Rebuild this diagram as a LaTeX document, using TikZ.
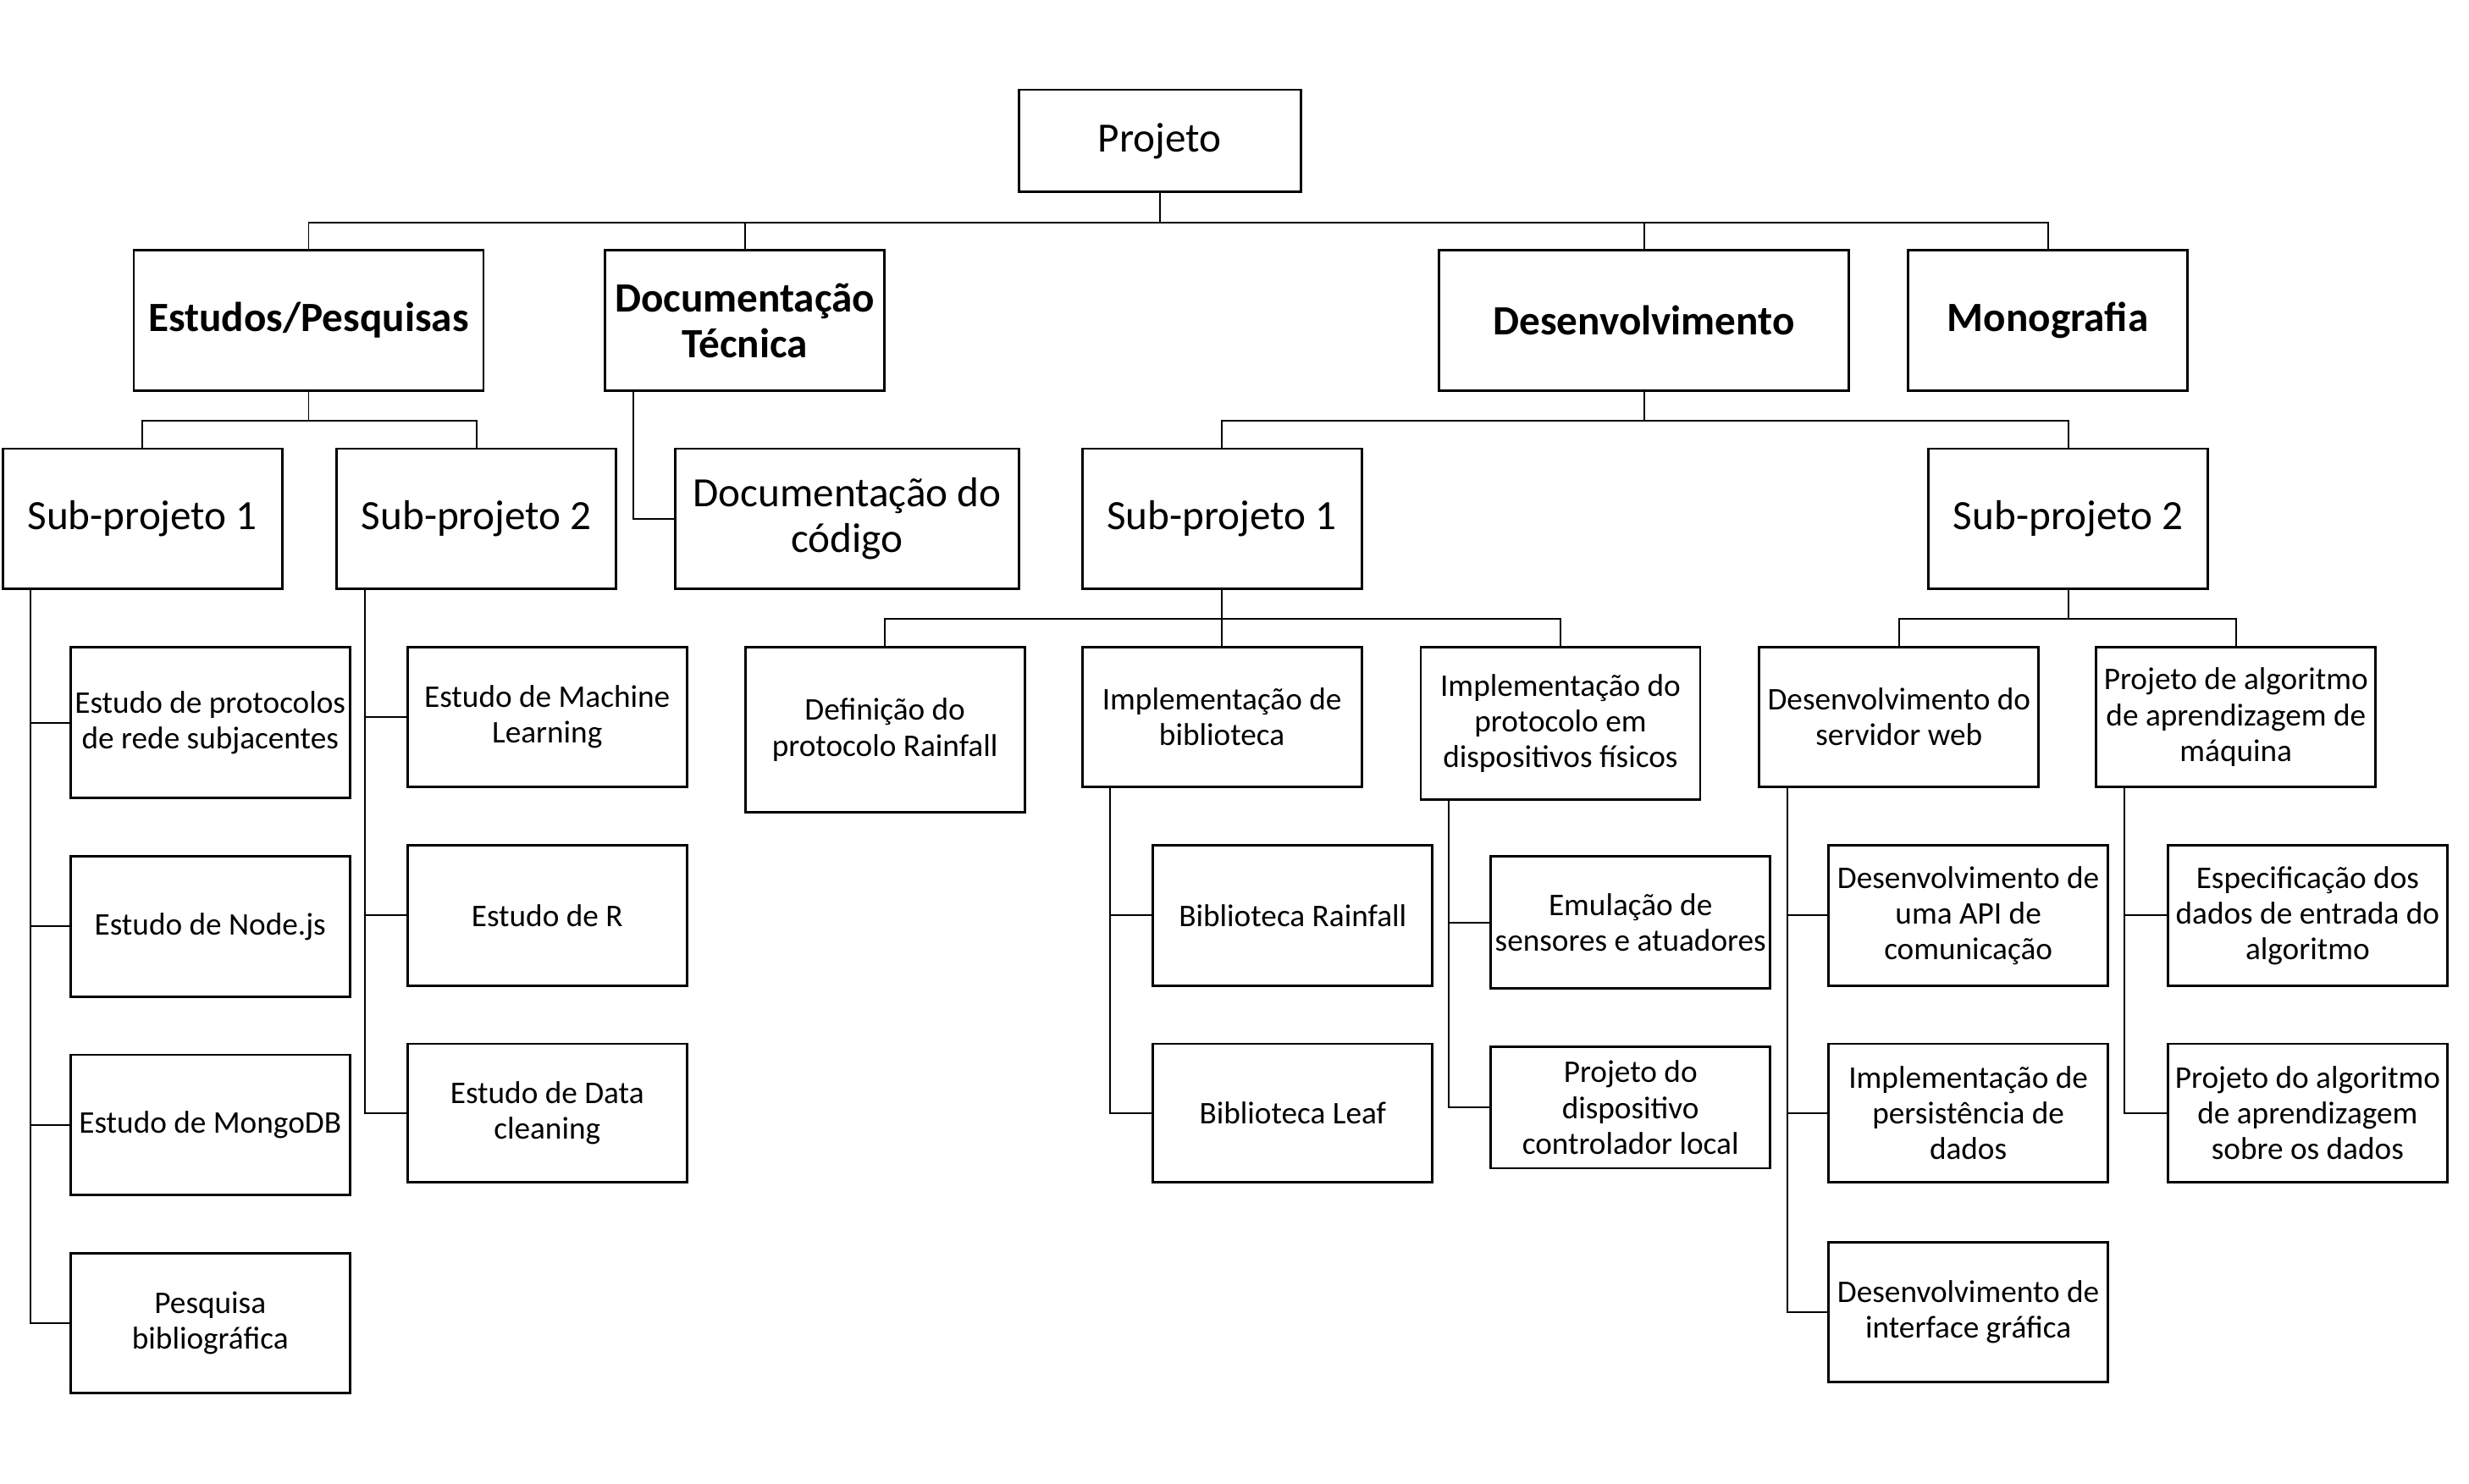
\documentclass[tikz,border=0pt]{standalone}
\usepackage{fontspec}
\setmainfont{Carlito}
\usetikzlibrary{positioning,calc}

\tikzset{
  wbsbox/.style={draw, line width=0.8pt, inner sep=1pt, align=center, minimum width=3.3cm, minimum height=1.655cm},
  bigtext/.style={font=\fontsize{14}{15.4}\selectfont},
  boldtext/.style={font=\fontsize{14}{15.4}\selectfont\bfseries},
  smalltext/.style={font=\fontsize{10.6}{12}\selectfont},
  wbsline/.style={line width=0.55pt},
}

\begin{document}
\begin{tikzpicture}[x=0.018597cm, y=-0.018597cm]
                    \useasboundingbox (0,0) rectangle (1568,942.1);

                    % Drawing box Projeto
                    \node[wbsbox, bigtext, minimum width=3.329cm, minimum height=1.209cm] (proj) at (736.5,89.5) {Projeto};

                    % Drawing boxes of level 1
                    \node[wbsbox, boldtext, minimum width=4.129cm] (est) at (196,203.5) {Estudos/Pesquisas};
                    \node[wbsbox, boldtext] (doct) at (473,203.5) {Documentação\\Técnica};
                    \node[wbsbox, boldtext, minimum width=4.835cm] (dev) at (1044,203.5) {Desenvolvimento};
                    \node[wbsbox, boldtext] (mono) at (1300.5,203.5) {Monografia};

                    % Drawing boxes of level 2
                    \node[wbsbox, bigtext] (esp1) at (90.5,329.5) {Sub-projeto 1};
                    \node[wbsbox, bigtext] (esp2) at (302.5,329.5) {Sub-projeto 2};
                    \node[wbsbox, bigtext, minimum width=4.054cm] (doccod) at (538,329.5) {Documentação do\\código};
                    \node[wbsbox, bigtext] (dsp1) at (776,329.5) {Sub-projeto 1};
                    \node[wbsbox, bigtext] (dsp2) at (1313.5,329.5) {Sub-projeto 2};

                    % Drawing boxes of Sub-projeto 1 (Estudos)
                    \node[wbsbox, smalltext, minimum height=1.785cm] (e1) at (133.5,459) {Estudo de protocolos\\de rede subjacentes};
                    \node[wbsbox, smalltext] (e2) at (133.5,588.5) {Estudo de Node.js};
                    \node[wbsbox, smalltext] (e3) at (133.5,714.5) {Estudo de MongoDB};
                    \node[wbsbox, smalltext] (e4) at (133.5,840.5) {Pesquisa\\bibliográfica};

                    % Drawing boxes of Sub-projeto 2 (Estudos)
                    \node[wbsbox, smalltext] (m1) at (347.5,455.5) {Estudo de Machine\\Learning};
                    \node[wbsbox, smalltext] (m2) at (347.5,581.5) {Estudo de R};
                    \node[wbsbox, smalltext, minimum height=1.637cm] (m3) at (347.5,707) {Estudo de Data\\cleaning};

                    % Drawing boxes of Sub-projeto 1 (Desenvolvimento)
                    \node[wbsbox, smalltext, minimum height=1.953cm] (def) at (562,463.5) {Definição do\\protocolo Rainfall};
                    \node[wbsbox, smalltext] (implib) at (776,455.5) {Implementação de\\biblioteca};
                    \node[wbsbox, smalltext, minimum height=1.804cm] (implpro) at (991,459.5) {Implementação do\\protocolo em\\dispositivos físicos};
                    \node[wbsbox, smalltext] (bib1) at (821,581.5) {Biblioteca Rainfall};
                    \node[wbsbox, smalltext, minimum height=1.637cm] (bib2) at (821,707) {Biblioteca Leaf};
                    \node[wbsbox, smalltext, minimum height=1.562cm] (emu) at (1035.5,586) {Emulação de\\sensores e atuadores};
                    \node[wbsbox, smalltext, minimum height=1.432cm] (ctrl) at (1035.5,703.5) {Projeto do\\dispositivo\\controlador local};

                    % Drawing boxes of Sub-projeto 2 (Desenvolvimento)
                    \node[wbsbox, smalltext] (devweb) at (1206,455.5) {Desenvolvimento do\\servidor web};
                    \node[wbsbox, smalltext] (projalg) at (1420,455.5) {Projeto de algoritmo\\de aprendizagem de\\máquina};
                    \node[wbsbox, smalltext] (api) at (1250,581.5) {Desenvolvimento de\\uma API de\\comunicação};
                    \node[wbsbox, smalltext, minimum height=1.637cm] (pers) at (1250,707) {Implementação de\\persistência de\\dados};
                    \node[wbsbox, smalltext] (gui) at (1250,833.5) {Desenvolvimento de\\interface gráfica};
                    \node[wbsbox, smalltext] (spec) at (1465.5,581.5) {Especificação dos\\dados de entrada do\\algoritmo};
                    \node[wbsbox, smalltext, minimum height=1.637cm] (algo) at (1465.5,707) {Projeto do algoritmo\\de aprendizagem\\sobre os dados};

                    % Drawing lines below Projeto
                    \foreach \n in {est,doct,dev,mono}
                      \draw[wbsline] (proj.south) -- ++(0,18.5) -| (\n.north);

                    % Drawing lines below Estudos/Pesquisas and Desenvolvimento
                    \foreach \n in {esp1,esp2}
                      \draw[wbsline] (est.south) -- ++(0,18.5) -| (\n.north);
                    \foreach \n in {dsp1,dsp2}
                      \draw[wbsline] (dev.south) -- ++(0,18.5) -| (\n.north);

                    % Drawing line Documentacao Tecnica
                    \draw[wbsline] ([xshift=0.345cm]doct.south west) |- (doccod.west);

                    % Drawing lines below the sub-projects of Desenvolvimento
                    \foreach \n in {def,implib,implpro}
                      \draw[wbsline] (dsp1.south) -- ++(0,18.5) -| (\n.north);
                    \foreach \n in {devweb,projalg}
                      \draw[wbsline] (dsp2.south) -- ++(0,18.5) -| (\n.north);

                    % Drawing side lines
                    \foreach \n in {e1,e2,e3,e4}
                      \draw[wbsline] ([xshift=0.345cm]esp1.south west) |- (\n.west);
                    \foreach \n in {m1,m2,m3}
                      \draw[wbsline] ([xshift=0.345cm]esp2.south west) |- (\n.west);
                    \foreach \n in {bib1,bib2}
                      \draw[wbsline] ([xshift=0.345cm]implib.south west) |- (\n.west);
                    \foreach \n in {emu,ctrl}
                      \draw[wbsline] ([xshift=0.345cm]implpro.south west) |- (\n.west);
                    \foreach \n in {api,pers,gui}
                      \draw[wbsline] ([xshift=0.345cm]devweb.south west) |- (\n.west);
                    \foreach \n in {spec,algo}
                      \draw[wbsline] ([xshift=0.345cm]projalg.south west) |- (\n.west);
\end{tikzpicture}
\end{document}
